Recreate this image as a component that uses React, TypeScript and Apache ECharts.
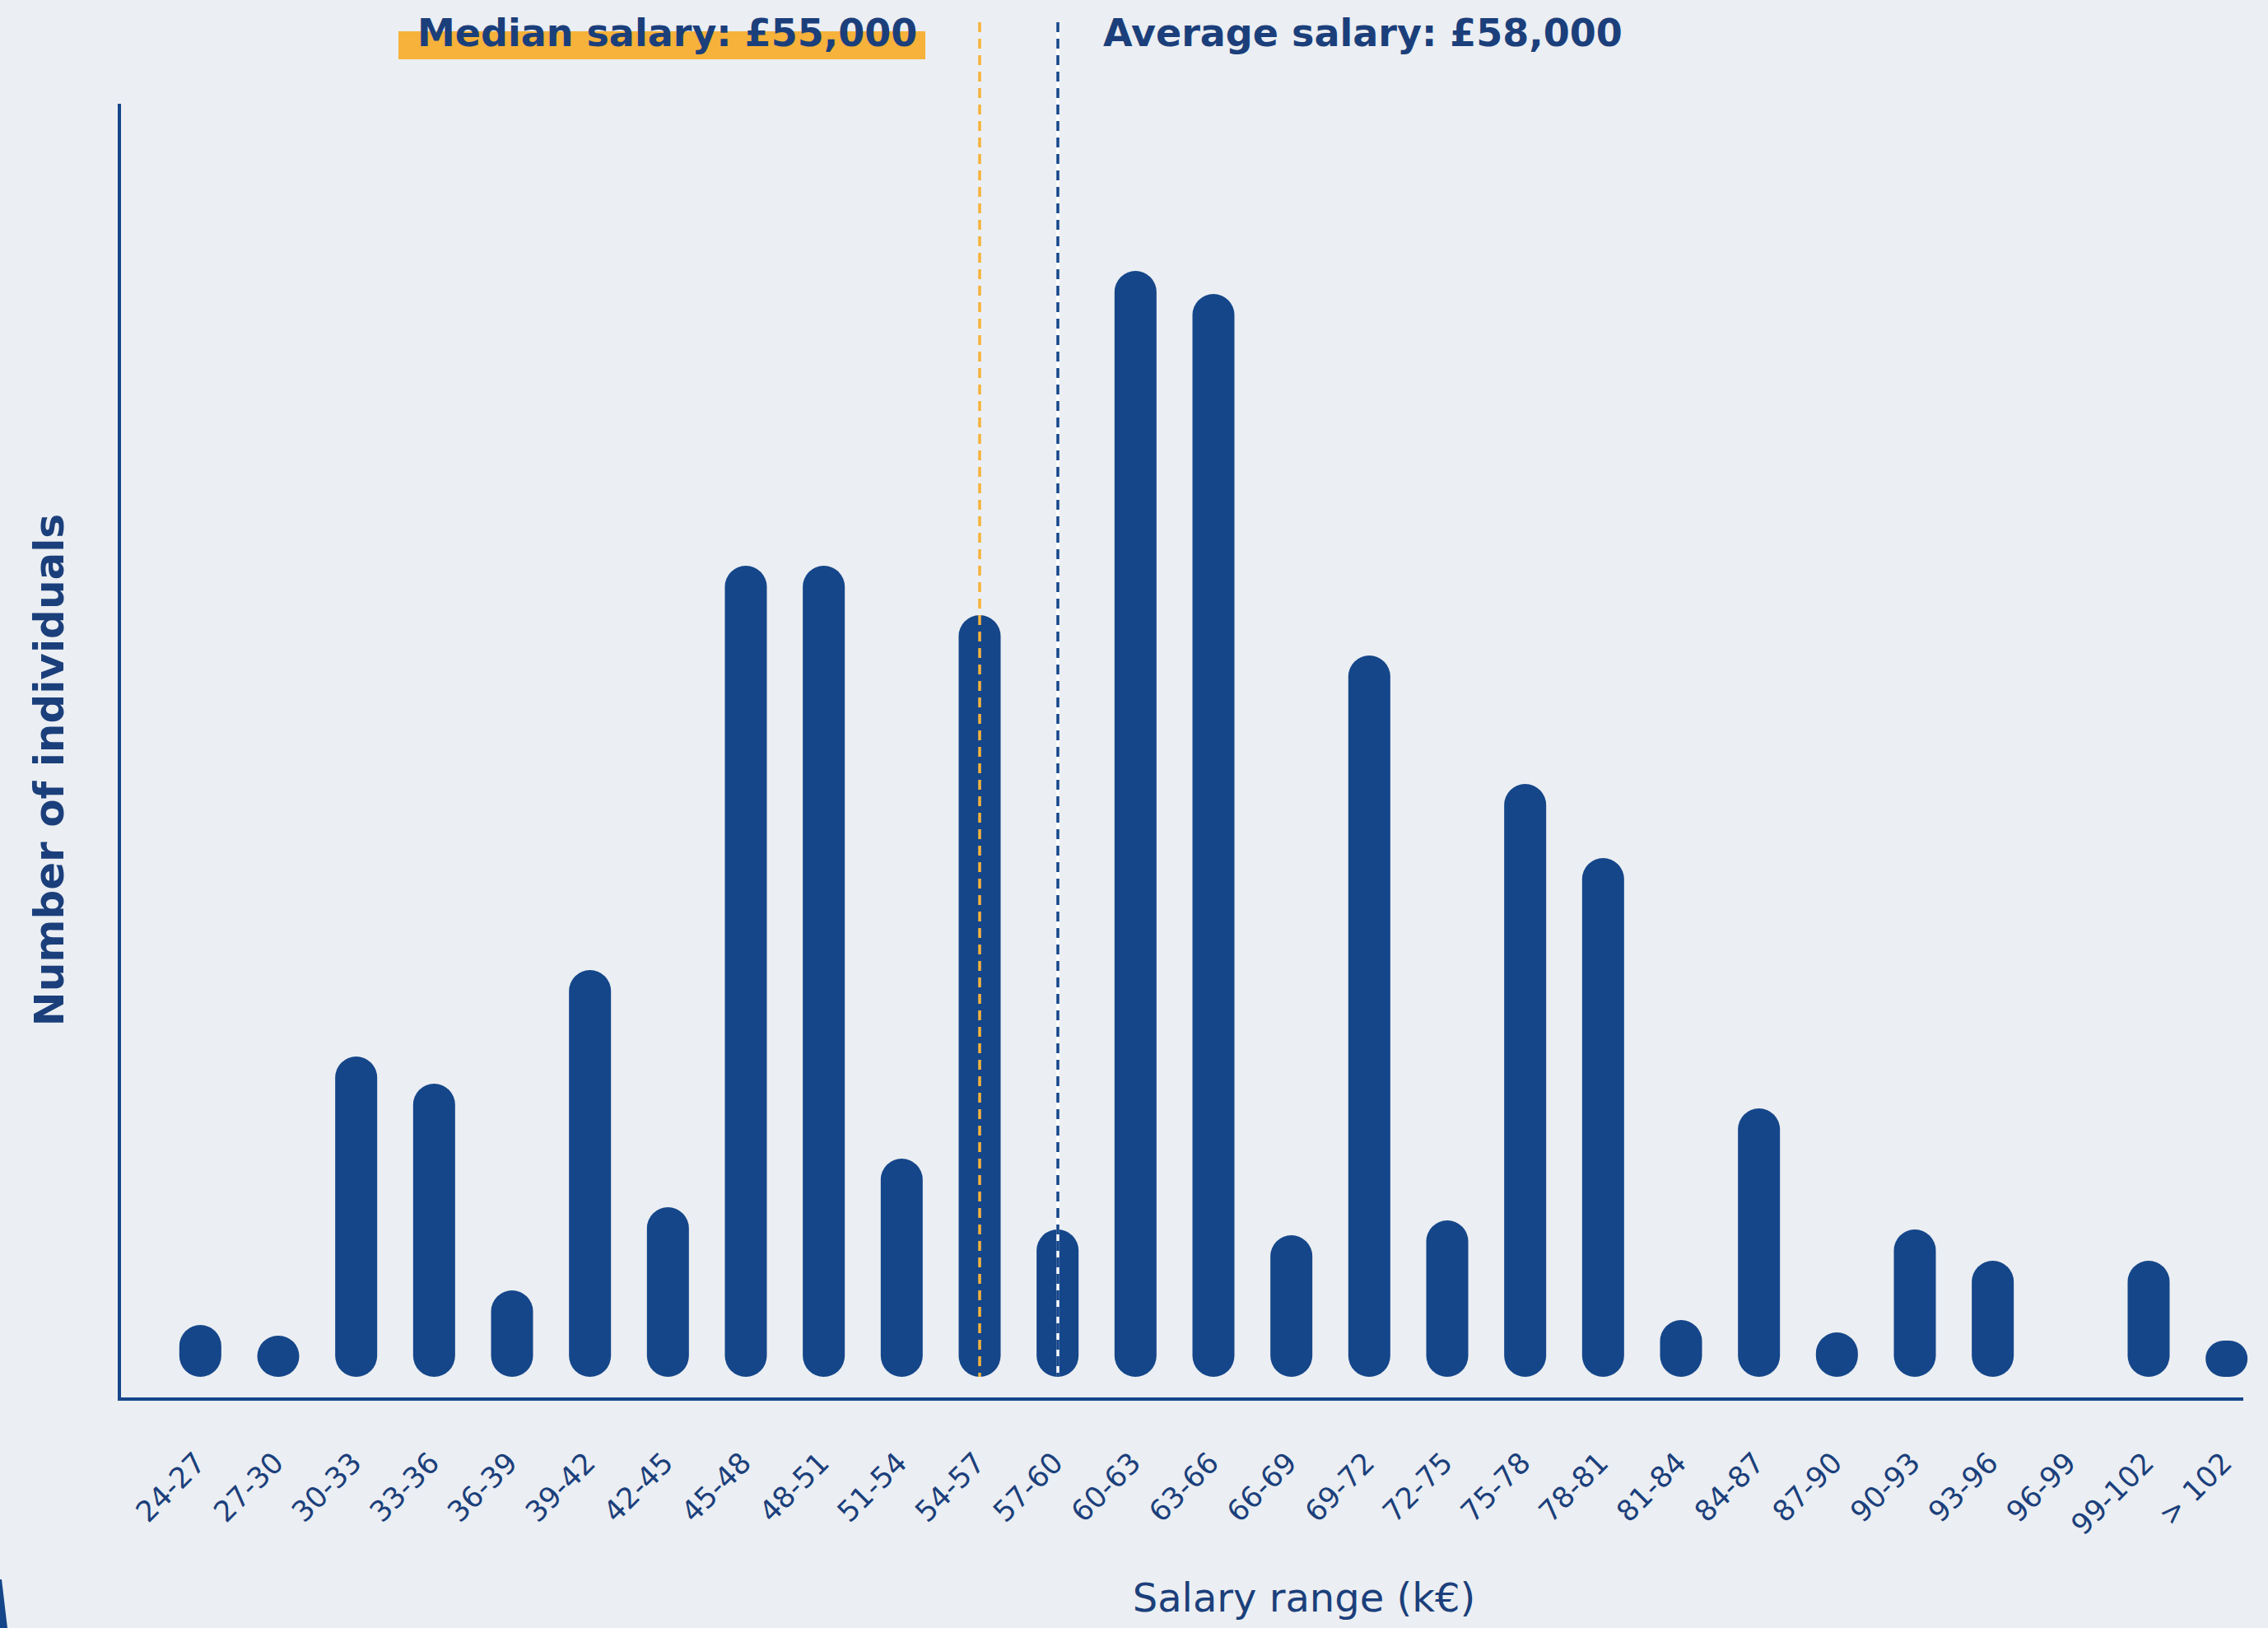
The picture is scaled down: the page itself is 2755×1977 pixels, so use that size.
import React, { useEffect, useRef } from 'react';
import * as echarts from 'echarts';

const salaryRanges = [
  '24-27', '27-30', '30-33', '33-36', '36-39', '39-42', '42-45', '45-48', '48-51',
  '51-54', '54-57', '57-60', '60-63', '63-66', '66-69', '69-72', '72-75', '75-78',
  '78-81', '81-84', '84-87', '87-90', '90-93', '93-96', '96-99', '99-102', '> 102',
];
const individuals = [
  63, 50, 389, 356, 105, 494, 206, 985, 985,
  265, 925, 179, 1343, 1315, 172, 876, 190, 720,
  630, 69, 326, 54, 179, 141, 0, 141, 44,
];
const medianRange = '54-57';
const averageRange = '57-60';
const medianLabel = 'Median salary: £55,000';
const averageLabel = 'Average salary: £58,000';
const xAxisTitle = 'Salary range (k€)';
const yAxisTitle = 'Number of individuals';

const W = 2755;
const H = 1977;
const BG = '#ebeef2';
const NAVY = '#15468a';
const TEXT = '#1b3f7b';
const ORANGE = '#f6b23a';
const Y_MAX = 1645;

export default function App() {
  const ref = useRef<HTMLDivElement>(null);
  useEffect(() => {
    const chart = echarts.init(ref.current!, null, { renderer: 'svg' });
    chart.setOption({
      animation: false,
      backgroundColor: BG,
      grid: { left: 196, right: 3, top: 27, bottom: 305, containLabel: false },
      xAxis: {
        type: 'category',
        data: salaryRanges,
        axisLine: { show: false },
        axisTick: { show: false },
        axisLabel: {
          rotate: 45,
          interval: 0,
          margin: 98,
          align: 'right',
          verticalAlign: 'middle',
          fontFamily: 'DejaVu Sans',
          fontSize: 35,
          color: TEXT,
        },
      },
      yAxis: { type: 'value', min: 0, max: Y_MAX, show: false, splitLine: { show: false } },
      series: [
        {
          type: 'bar',
          data: individuals,
          barWidth: 51,
          itemStyle: { color: NAVY, borderRadius: 25.5 },
          markLine: {
            silent: true,
            symbol: ['none', 'none'],
            label: { show: false },
            data: [
              [
                { coord: [medianRange, Y_MAX], lineStyle: { color: ORANGE, type: [12, 8], width: 3.5 } },
                { coord: [medianRange, 0] },
              ],
              [
                { coord: [averageRange, Y_MAX], lineStyle: { color: '#ffffff', type: 'solid', width: 3.5 } },
                { coord: [averageRange, 0] },
              ],
              [
                { coord: [averageRange, Y_MAX], lineStyle: { color: NAVY, type: [12, 8], width: 3.5 } },
                { coord: [averageRange, 0] },
              ],
            ],
          },
        },
      ],
      graphic: [
        { type: 'line', shape: { x1: 145, y1: 126, x2: 145, y2: 1699 }, style: { stroke: NAVY, lineWidth: 4 } },
        { type: 'line', shape: { x1: 143, y1: 1699, x2: 2725, y2: 1699 }, style: { stroke: NAVY, lineWidth: 4 } },
        { type: 'rect', shape: { x: 484, y: 38, width: 640, height: 34 }, style: { fill: ORANGE } },
        {
          type: 'text', x: 507, y: 40,
          style: { text: medianLabel, font: 'bold 46px "DejaVu Sans"', fill: TEXT, align: 'left', verticalAlign: 'middle' },
        },
        {
          type: 'text', x: 1340, y: 40,
          style: { text: averageLabel, font: 'bold 46px "DejaVu Sans"', fill: TEXT, align: 'left', verticalAlign: 'middle' },
        },
        {
          type: 'text', x: 60, y: 935, rotation: Math.PI / 2,
          style: { text: yAxisTitle, font: 'bold 50px "DejaVu Sans"', fill: TEXT, align: 'center', verticalAlign: 'middle' },
        },
        {
          type: 'text', x: 1584, y: 1940,
          style: { text: xAxisTitle, font: '48px "DejaVu Sans"', fill: TEXT, align: 'center', verticalAlign: 'middle' },
        },
        {
          type: 'polygon', shape: { points: [[0, 1918], [2, 1918], [9, 1977], [0, 1977]] }, style: { fill: NAVY },
        },
      ],
    });
    return () => chart.dispose();
  }, []);
  return <div ref={ref} style={{ position: 'fixed', left: 0, top: 0, width: W, height: H }} />;
}
